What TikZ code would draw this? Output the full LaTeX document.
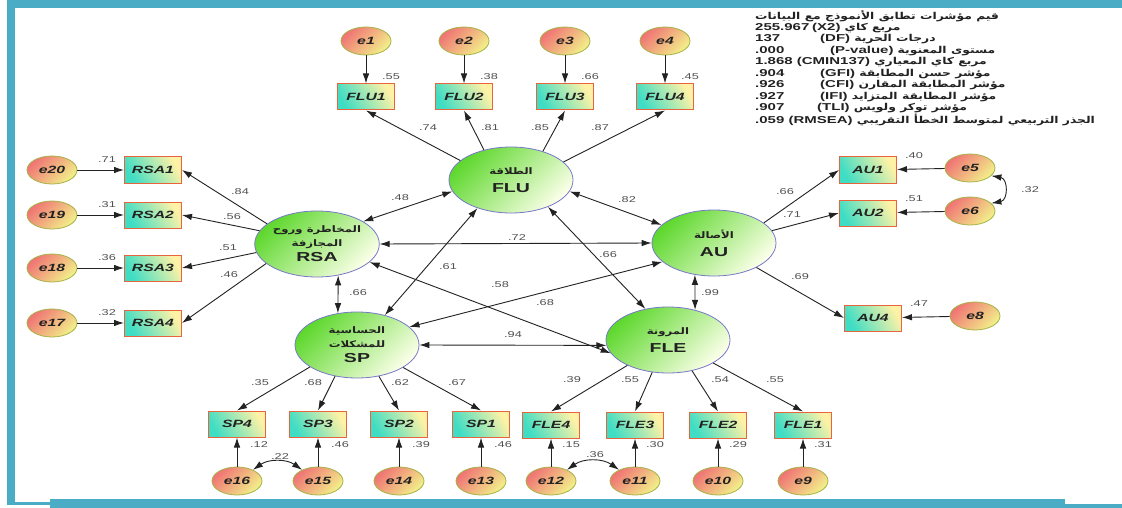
\documentclass[tikz,border=0pt]{standalone}
\usepackage{fontspec}
\setmainfont{Liberation Sans}
\newfontfamily\diagfont[FakeStretch=1.5]{Liberation Sans}
\newfontfamily\arabicfont[Script=Arabic,FakeStretch=1.3]{DejaVu Sans}
\TeXXeTstate=1
\usetikzlibrary{arrows.meta,shapes.geometric}
\usepackage{xcolor}
\definecolor{framec}{HTML}{4BACC6}
\definecolor{latc}{HTML}{5FD82E}
\definecolor{latpale}{HTML}{FBFFE8}
\definecolor{latline}{HTML}{7878C8}
\definecolor{errc}{HTML}{F07474}
\definecolor{errpale}{HTML}{F2F08A}
\definecolor{errline}{HTML}{A4B446}
\definecolor{boxc}{HTML}{3EDDC4}
\definecolor{boxpale}{HTML}{FFF2A6}
\definecolor{boxline}{HTML}{E8643C}
\definecolor{inkc}{HTML}{222222}
\definecolor{numc}{HTML}{505050}

% arabic text, right to left
\newcommand{\arb}[2][9]{{\arabicfont\fontsize{#1}{#1}\selectfont\beginR #2\endR}}

\tikzset{
  latent/.style={ellipse, draw=latline, line width=0.8pt,
    minimum width=124pt, minimum height=66pt, inner sep=0pt,
    top color=latc, bottom color=latpale, shading angle=45,
    align=center, text=inkc, font=\diagfont\bfseries\fontsize{13}{14}\selectfont},
  errv/.style={ellipse, draw=errline, line width=0.8pt,
    minimum width=50pt, minimum height=28pt, inner sep=0pt,
    top color=errc, bottom color=errpale, shading angle=45,
    text=inkc, font=\diagfont\bfseries\itshape\fontsize{10.5}{10.5}\selectfont},
  obsbox/.style={rectangle, draw=boxline, line width=1pt,
    minimum width=57pt, minimum height=26pt, inner sep=0pt,
    left color=boxc, right color=boxpale, shading angle=120,
    text=inkc, font=\diagfont\bfseries\itshape\fontsize{10.5}{10.5}\selectfont},
  coef/.style={inner sep=0pt, text=numc, font=\diagfont\fontsize{8.5}{8.5}\selectfont},
  stat/.style={anchor=west, inner sep=0pt, text=inkc,
    font=\diagfont\bfseries\fontsize{10}{10}\selectfont},
  load/.style={draw=inkc, line width=0.9pt, -{Latex[length=10pt,width=6.5pt]}},
  cov/.style={draw=inkc, line width=0.9pt,
    {Latex[length=10pt,width=6.5pt]}-{Latex[length=10pt,width=6.5pt]}}
}

\begin{document}
\begin{tikzpicture}[x=1pt,y=-1pt]
  \useasboundingbox (0,0) rectangle (1122,508);
  \fill[white] (0,0) rectangle (1122,508);

  % ==========================================================
  %                     FRAME
  % ==========================================================
  \fill[framec] (7,0) rectangle (1122,8);
  \fill[framec] (7,0) rectangle (15,505);
  \fill[framec] (15,502) rectangle (50,505);
  \fill[framec] (50,499) rectangle (1065,508);
  \fill[framec] (1065,504) rectangle (1122,508);

  % ==========================================================
  %                     LATENT FACTORS
  % ==========================================================
  \node[latent] (FLU) at (511,180) {\arb{الطلاقة}\\[4pt]FLU};
  \node[latent] (RSA) at (317,244) {\arb{المخاطرة وروح}\\\arb{المجازفة}\\[1pt]RSA};
  \node[latent] (AU)  at (714,243) {\arb{الأصالة}\\[4pt]AU};
  \node[latent] (SP)  at (357,345) {\arb{الحساسية}\\\arb{للمشكلات}\\[1pt]SP};
  \node[latent] (FLE) at (668,340) {\arb{المرونة}\\[4pt]FLE};

  % ==========================================================
  %                     FLU  (top row)
  % ==========================================================
  \foreach \kk/\xx/\ee/\ang/\lam/\lx/\rr in {
      1/366/1/159/.74/428/.55, 2/464/2/132/.81/490/.38,
      3/565/3/42/.85/540/.66,  4/665/4/19/.87/600/.45}{
    \node[obsbox] (FLU\kk) at (\xx,97) {FLU\kk};
    \node[errv] (e\ee) at (\xx,41) {e\ee};
    \draw[load] (e\ee) -- (FLU\kk);
    \draw[load] (FLU.\ang) -- (FLU\kk.south);
    \node[coef] (lFLU\kk) at (\lx,128) {\lam};
    \node[coef] (rFLU\kk) at (\xx+25,77) {\rr};
  }

  % ==========================================================
  %                     RSA  (left column)
  % ==========================================================
  \foreach \kk/\yy/\ee/\ang/\lam/\lx/\ly/\rr in {
      1/170/20/158/.84/240/192/.71, 2/215/19/167/.56/232/217/.31,
      3/268/18/188/.51/228/248/.36, 4/323/17/201/.46/229/275/.32}{
    \node[obsbox] (RSA\kk) at (153,\yy) {RSA\kk};
    \node[errv] (e\ee) at (52,\yy) {e\ee};
    \draw[load] (e\ee) -- (RSA\kk);
    \draw[load] (RSA.\ang) -- (RSA\kk.east);
    \node[coef] (lRSA\kk) at (\lx,\ly) {\lam};
    \node[coef] (rRSA\kk) at (107,\yy-10) {\rr};
  }

  % ==========================================================
  %                     AU  (right column)
  % ==========================================================
  \foreach \kk/\xx/\yy/\ee/\ang/\lam/\lx/\ly/\rr in {
      1/868/170/5/22/.66/785/192/.40, 2/868/213/6/12/.71/792/215/.51,
      4/873/318/8/-30/.69/800/277/.47}{
    \node[obsbox] (AU\kk) at (\xx,\yy) {AU\kk};
    \node[errv] (e\ee) at (\xx+102,\yy-2) {e\ee};
    \draw[load] (e\ee) -- (AU\kk);
    \draw[load] (AU.\ang) -- (AU\kk.west);
    \node[coef] (lAU\kk) at (\lx,\ly) {\lam};
    \node[coef] (rAU\kk) at (\xx+46,\yy-14) {\rr};
  }
  \draw[cov] (e5.-20) to[bend left=80, looseness=1.6] (e6.20);
  \node[coef] (c56) at (1030,190) {.32};

  % ==========================================================
  %                     SP  (bottom left)
  % ==========================================================
  \foreach \kk/\xx/\ee/\ang/\lam/\lx/\rr in {
      4/237/16/205/.35/260/.12, 3/318/15/235/.68/313/.46,
      2/399/14/305/.62/400/.39, 1/481/13/334/.67/457/.46}{
    \node[obsbox] (SP\kk) at (\xx,424) {SP\kk};
    \node[errv] (e\ee) at (\xx,481) {e\ee};
    \draw[load] (e\ee) -- (SP\kk);
    \draw[load] (SP.\ang) -- (SP\kk.north);
    \node[coef] (lSP\kk) at (\lx,383) {\lam};
    \node[coef] (rSP\kk) at (\xx+22,445) {\rr};
  }
  \draw[cov] (e16.35) to[bend left=35] (e15.145);
  \node[coef] (c1615) at (280,457) {.22};

  % ==========================================================
  %                     FLE  (bottom right)
  % ==========================================================
  \foreach \kk/\xx/\ee/\ang/\lam/\lx/\rr in {
      4/551/12/212/.39/572/.15, 3/635/11/244/.55/630/.30,
      2/718/10/308/.54/720/.29, 1/803/9/333/.55/775/.31}{
    \node[obsbox] (FLE\kk) at (\xx,425) {FLE\kk};
    \node[errv] (e\ee) at (\xx,481) {e\ee};
    \draw[load] (e\ee) -- (FLE\kk);
    \draw[load] (FLE.\ang) -- (FLE\kk.north);
    \node[coef] (lFLE\kk) at (\lx,380) {\lam};
    \node[coef] (rFLE\kk) at (\xx+20,445) {\rr};
  }
  \draw[cov] (e12.35) to[bend left=35] (e11.145);
  \node[coef] (c1211) at (595,455) {.36};

  % ==========================================================
  %                     FACTOR CORRELATIONS
  % ==========================================================
  \draw[cov] (RSA.26) -- (FLU.191);    \node[coef] (rRSAFLU) at (400,198) {.48};
  \draw[cov] (FLU.-11) -- (AU.161);    \node[coef] (rFLUAU)  at (627,200) {.82};
  \draw[cov] (RSA.0) -- (AU.180);      \node[coef] (rRSAAU)  at (517,238) {.72};
  \draw[cov] (RSA.-56) -- (SP.121);    \node[coef] (rRSASP)  at (358,293) {.66};
  \draw[cov] (SP.47) -- (FLU.220);     \node[coef] (rSPFLU)  at (448,267) {.61};
  \draw[cov] (FLU.-36) -- (FLE.126);   \node[coef] (rFLUFLE) at (608,255) {.66};
  \draw[cov] (RSA.-19) -- (FLE.193);   \node[coef] (rRSAFLE) at (500,285) {.58};
  \draw[cov] (SP.19) -- (AU.200);      \node[coef] (rSPAU)   at (545,303) {.68};
  \draw[cov] (SP.0) -- (FLE.185);      \node[coef] (rSPFLE)  at (513,335) {.94};
  \draw[cov] (AU.-121) -- (FLE.48);    \node[coef] (rAUFLE)  at (710,293) {.99};

  % ==========================================================
  %                     FIT INDICES
  % ==========================================================
  \node[stat] (fit0) at (755,16)  {\arb[9.5]{قيم مؤشرات تطابق الأنموذج مع البيانات}};
  \node[stat] (fit1) at (755,28)  {\makebox[57pt][l]{255.967}(X2)\ \arb[9.5]{مربع كاي}};
  \node[stat] (fit2) at (755,39.5){\makebox[65pt][l]{137}(DF)\ \arb[9.5]{درجات الحرية}};
  \node[stat] (fit3) at (755,51)  {\makebox[75pt][l]{.000}(P-value)\ \arb[9.5]{مستوى المعنوية}};
  \node[stat] (fit4) at (755,62.5){1.868 (CMIN137)\ \arb[9.5]{مربع كاي المعياري}};
  \node[stat] (fit5) at (755,74)  {\makebox[65pt][l]{.904}(GFI)\ \arb[9.5]{مؤشر حسن المطابقة}};
  \node[stat] (fit6) at (755,85.5){\makebox[65pt][l]{.926}(CFI)\ \arb[9.5]{مؤشر المطابقة المقارن}};
  \node[stat] (fit7) at (755,97)  {\makebox[65pt][l]{.927}(IFI)\ \arb[9.5]{مؤشر المطابقة المتزايد}};
  \node[stat] (fit8) at (755,108.5){\makebox[62pt][l]{.907}(TLI)\ \arb[9.5]{مؤشر توكر ولويس}};
  \node[stat] (fit9) at (755,120) {.059 (RMSEA)\ \arb[9.5]{الجذر التربيعي لمتوسط الخطأ التقريبي}};
\end{tikzpicture}
\end{document}
